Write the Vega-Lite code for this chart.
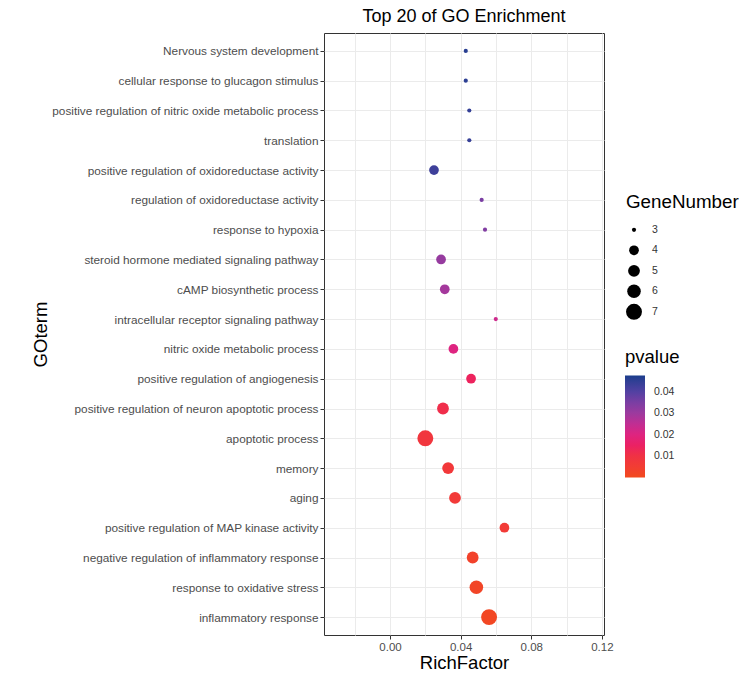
{
  "$schema": "https://vega.github.io/schema/vega-lite/v6.json",
  "autosize": {"type": "none"},
  "width": 280,
  "height": 602,
  "padding": {"left": 324, "top": 33, "right": 140, "bottom": 40},
  "background": "white",
  "title": {"text": "Top 20 of GO Enrichment", "fontSize": 18, "font": "Liberation Sans", "fontWeight": "normal", "color": "#000000", "offset": 7, "anchor": "middle"},
  "config": {"view": {"stroke": "#333333", "strokeWidth": 1}, "font": "Liberation Sans"},
  "data": {"values": [
    {"GOterm": "Nervous system development", "RichFactor": 0.0429, "GeneNumber": 3, "pvalue": 0.046},
    {"GOterm": "cellular response to glucagon stimulus", "RichFactor": 0.0429, "GeneNumber": 3, "pvalue": 0.0455},
    {"GOterm": "positive regulation of nitric oxide metabolic process", "RichFactor": 0.0449, "GeneNumber": 3, "pvalue": 0.0445},
    {"GOterm": "translation", "RichFactor": 0.0449, "GeneNumber": 3, "pvalue": 0.044},
    {"GOterm": "positive regulation of oxidoreductase activity", "RichFactor": 0.0249, "GeneNumber": 4, "pvalue": 0.043},
    {"GOterm": "regulation of oxidoreductase activity", "RichFactor": 0.0519, "GeneNumber": 3, "pvalue": 0.035},
    {"GOterm": "response to hypoxia", "RichFactor": 0.0538, "GeneNumber": 3, "pvalue": 0.034},
    {"GOterm": "steroid hormone mediated signaling pathway", "RichFactor": 0.0289, "GeneNumber": 4, "pvalue": 0.031},
    {"GOterm": "cAMP biosynthetic process", "RichFactor": 0.031, "GeneNumber": 4, "pvalue": 0.029},
    {"GOterm": "intracellular receptor signaling pathway", "RichFactor": 0.0599, "GeneNumber": 3, "pvalue": 0.023},
    {"GOterm": "nitric oxide metabolic process", "RichFactor": 0.0359, "GeneNumber": 4, "pvalue": 0.02},
    {"GOterm": "positive regulation of angiogenesis", "RichFactor": 0.0459, "GeneNumber": 4, "pvalue": 0.014},
    {"GOterm": "positive regulation of neuron apoptotic process", "RichFactor": 0.03, "GeneNumber": 5, "pvalue": 0.011},
    {"GOterm": "apoptotic process", "RichFactor": 0.02, "GeneNumber": 7, "pvalue": 0.008},
    {"GOterm": "memory", "RichFactor": 0.0329, "GeneNumber": 5, "pvalue": 0.007},
    {"GOterm": "aging", "RichFactor": 0.0368, "GeneNumber": 5, "pvalue": 0.0065},
    {"GOterm": "positive regulation of MAP kinase activity", "RichFactor": 0.0648, "GeneNumber": 4, "pvalue": 0.006},
    {"GOterm": "negative regulation of inflammatory response", "RichFactor": 0.0468, "GeneNumber": 5, "pvalue": 0.003},
    {"GOterm": "response to oxidative stress", "RichFactor": 0.0489, "GeneNumber": 6, "pvalue": 0.002},
    {"GOterm": "inflammatory response", "RichFactor": 0.0561, "GeneNumber": 7, "pvalue": 0.001}
  ]},
  "mark": {"type": "circle", "opacity": 1},
  "encoding": {
    "y": {
      "field": "GOterm", "type": "nominal", "sort": null,
      "scale": {"type": "point", "padding": 0.6},
      "axis": {
        "title": "GOterm", "titleFontSize": 18.5, "titleFontWeight": "normal", "titleColor": "#000000",
        "titleX": -284, "titleY": 301, "titleAngle": -90, "titleBaseline": "middle", "titleAlign": "center",
        "labelFontSize": 11.8, "labelColor": "#4d4d4d", "labelPadding": 2, "labelLimit": 400,
        "tickSize": 4, "tickColor": "#333333", "domain": false,
        "grid": true, "gridColor": "#ebebeb", "gridWidth": 1
      }
    },
    "x": {
      "field": "RichFactor", "type": "quantitative",
      "scale": {"domain": [-0.0374, 0.1212], "nice": false, "zero": false},
      "axis": {
        "title": "RichFactor", "titleFontSize": 18.5, "titleFontWeight": "normal", "titleColor": "#000000",
        "titleY": 27, "titleBaseline": "middle",
        "values": [-0.02, 0, 0.02, 0.04, 0.06, 0.08, 0.1, 0.12],
        "labelExpr": "abs(round(datum.value*100)) % 4 == 2 ? '' : format(datum.value, '.2f')",
        "labelFontSize": 11.5, "labelColor": "#4d4d4d", "labelPadding": 2,
        "tickSize": 4,
        "tickColor": {"condition": {"test": "abs(round(datum.value*100)) % 4 == 2", "value": "transparent"}, "value": "#333333"},
        "domain": false, "grid": true, "gridColor": "#ebebeb", "gridWidth": 1
      }
    },
    "size": {
      "field": "GeneNumber", "type": "quantitative",
      "scale": {"domain": [3, 4, 5, 6, 7], "range": [17.3, 95, 139, 184, 254]},
      "legend": {
        "title": "GeneNumber", "orient": "none", "legendX": 302, "legendY": 160,
        "values": [3, 4, 5, 6, 7], "symbolType": "circle",
        "symbolFillColor": "#000000", "symbolStrokeColor": "#000000", "symbolStrokeWidth": 0, "symbolOpacity": 1,
        "titleFontSize": 18.8, "titleFontWeight": "normal", "titleColor": "#000000", "titlePadding": 9,
        "labelFontSize": 10.5, "labelColor": "#333333", "labelOffset": 10,
        "rowPadding": 2.5, "clipHeight": 18, "padding": 0
      }
    },
    "color": {
      "field": "pvalue", "type": "quantitative",
      "scale": {"domain": [0, 0.01, 0.02, 0.03, 0.04, 0.0475], "range": ["#f24a1e", "#f03244", "#de2480", "#9c3a9e", "#5241a2", "#1b3d8c"]},
      "legend": {
        "title": "pvalue", "orient": "none", "legendX": 301, "legendY": 315, "direction": "vertical",
        "values": [0.01, 0.02, 0.03, 0.04], "format": ".2f",
        "gradientLength": 102, "gradientThickness": 20, "gradientStrokeWidth": 0,
        "titleFontSize": 18.5, "titleFontWeight": "normal", "titleColor": "#000000", "titlePadding": 9,
        "labelFontSize": 10.5, "labelColor": "#333333", "labelOffset": 9, "padding": 0
      }
    }
  }
}
